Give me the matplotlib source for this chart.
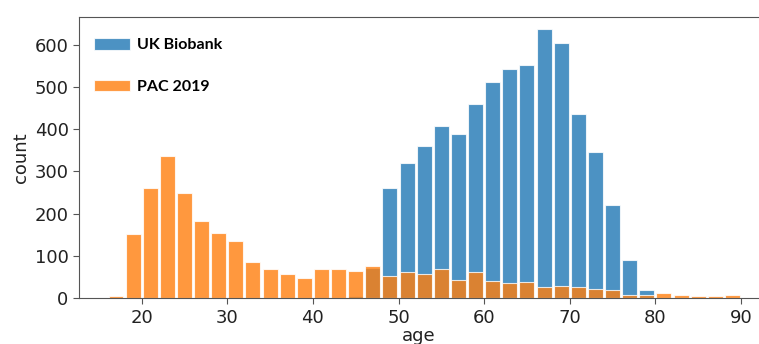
import matplotlib
matplotlib.use("Agg")
import matplotlib.pyplot as plt

# bin centres (2-year bins)
ages = [17, 19, 21, 23, 25, 27, 29, 31, 33, 35, 37, 39, 41, 43, 45, 47, 49, 51, 53,
        55, 57, 59, 61, 63, 65, 67, 69, 71, 73, 75, 77, 79, 81, 83, 85, 87, 89]

ukb_counts = [0, 0, 0, 0, 0, 0, 0, 0, 0, 0, 0, 0, 0, 0, 5, 72, 260, 319, 359,
              408, 388, 459, 511, 542, 552, 636, 604, 437, 346, 221, 91, 20, 0, 0, 0, 0, 0]

pac_counts = [5, 151, 262, 336, 250, 182, 155, 135, 86, 69, 57, 47, 69, 69, 64, 76, 52, 61, 58,
              69, 44, 61, 42, 36, 39, 27, 29, 27, 22, 20, 7, 7, 13, 8, 5, 5, 8]

labels = ["UK Biobank", "PAC 2019"]

fig = plt.figure(figsize=(7.59, 3.44), dpi=100)
ax = fig.add_axes([0.1041, 0.1329, 0.8959, 0.8186])

ax.bar(ages, ukb_counts, width=1.75, color="tab:blue", alpha=0.8,
       edgecolor="white", linewidth=0.8, label=labels[0])
ax.bar(ages, pac_counts, width=1.75, color="tab:orange", alpha=0.8,
       edgecolor="white", linewidth=0.8, label=labels[1])

ax.set_xlim(12.68, 92.1)
ax.set_ylim(0, 666)
ax.set_xticks([20, 30, 40, 50, 60, 70, 80, 90])
ax.set_yticks([0, 100, 200, 300, 400, 500, 600])

ax.spines["right"].set_visible(False)
for s in ["top", "left", "bottom"]:
    ax.spines[s].set_color("#555555")
ax.tick_params(labelsize=13, colors="#555555", labelcolor="#222222", length=4)

ax.set_xlabel("age", fontsize=13, color="#222222", labelpad=0)
ax.set_ylabel("count", fontsize=13, color="#222222", labelpad=3)

# legend sits inside, with wide spacing like the original
leg = ax.legend(loc="upper left", bbox_to_anchor=(0.0126, 0.947), borderaxespad=0,
                frameon=False, handlelength=2.25, handleheight=0.75,
                labelspacing=1.7, handletextpad=0.45,
                prop={"family": "Lato", "weight": "bold", "size": 11.5})

plt.savefig("out.png", dpi=100)
